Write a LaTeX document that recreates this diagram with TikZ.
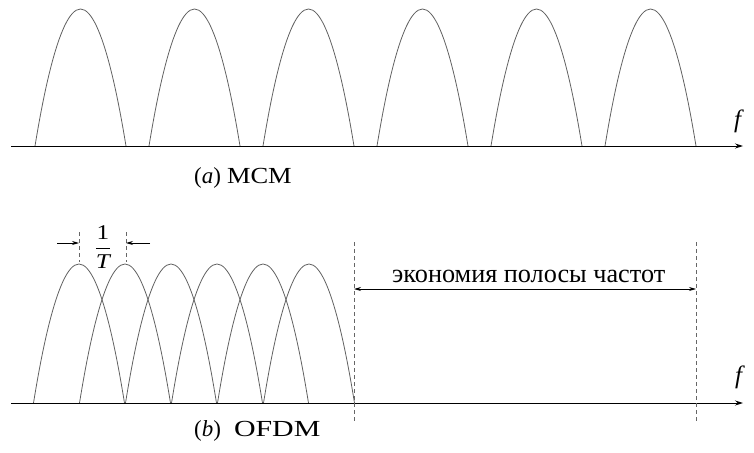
\documentclass[tikz,border=0pt]{standalone}
\usepackage{graphicx}
\usepackage{fontspec}
\setmainfont{Liberation Serif}
\usetikzlibrary{arrows.meta}
\begin{document}
\begin{tikzpicture}[x=1pt,y=-1pt,
  curve/.style={draw=black!62, line width=0.8pt},
  axis/.style={draw=black, line width=0.9pt, -{Stealth[length=8pt,width=5pt]}},
  guide/.style={draw=black!60, line width=0.8pt, dash pattern=on 4pt off 3pt},
  dim/.style={draw=black, line width=0.8pt},
  tip/.style={-{Stealth[length=7pt,width=4pt]}},
  lbl/.style={inner sep=0pt, font=\fontsize{23}{25}\selectfont}]
\useasboundingbox (0,0) rectangle (754,452);
% (a) MCM
\foreach \k in {0,...,5}
  \draw[curve] ({35+114*\k},146) parabola bend ({80.5+114*\k},9) ({126+114*\k},146);
\coordinate (a0) at (11,146);
\coordinate (a1) at (743,146);
\draw[axis] (a0) -- (a1);
\node[lbl, font=\fontsize{25}{27}\selectfont] (fa) at (739,121) {\textit{f}};
\node[lbl, anchor=base west] (capa) at (194,183) {(\textit{a})\hspace{6pt}\scalebox{1.15}[1]{MCM}};
% (b) OFDM
\foreach \k in {0,...,5}
  \draw[curve] ({33.5+46*\k},403) parabola bend ({79+46*\k},264) ({124.5+46*\k},403);
\coordinate (b0) at (11,403);
\coordinate (b1) at (743,403);
\draw[axis] (b0) -- (b1);
\node[lbl, font=\fontsize{25}{27}\selectfont] (fb) at (740,377) {\textit{f}};
\node[lbl, anchor=base west] (capb) at (194,436) {(\textit{b})\hspace{13pt}\scalebox{1.3}[1]{OFDM}};
% spacing marks
\coordinate (s1t) at (79,232);  \coordinate (s1b) at (79,262);
\coordinate (s2t) at (126,232); \coordinate (s2b) at (126,262);
\draw[guide] (s1t) -- (s1b);
\draw[guide] (s2t) -- (s2b);
\coordinate (s1o) at (57,243);  \coordinate (s1i) at (79,243);
\coordinate (s2o) at (150,243); \coordinate (s2i) at (126,243);
\draw[dim,tip] (s1o) -- (s1i);
\draw[dim,tip] (s2o) -- (s2i);
\node[lbl, font=\fontsize{21}{23}\selectfont] (frac) at (103,247) {\scalebox{1.2}[1]{$\displaystyle\frac{\mbox{1}}{\mbox{\itshape T}}$}};
% saving
\coordinate (d1t) at (354,242); \coordinate (d1b) at (354,422);
\coordinate (d2t) at (696,242); \coordinate (d2b) at (696,422);
\draw[guide] (d1t) -- (d1b);
\draw[guide] (d2t) -- (d2b);
\coordinate (e1) at (354,289); \coordinate (e2) at (696,289);
\draw[dim,{Stealth[length=7pt,width=4pt]}-{Stealth[length=7pt,width=4pt]}] (e1) -- (e2);
\node[inner sep=0pt, anchor=west, font=\fontsize{24}{26}\selectfont] (save) at (392,276) {\resizebox{273pt}{!}{экономия полосы частот}};
\end{tikzpicture}
\end{document}
